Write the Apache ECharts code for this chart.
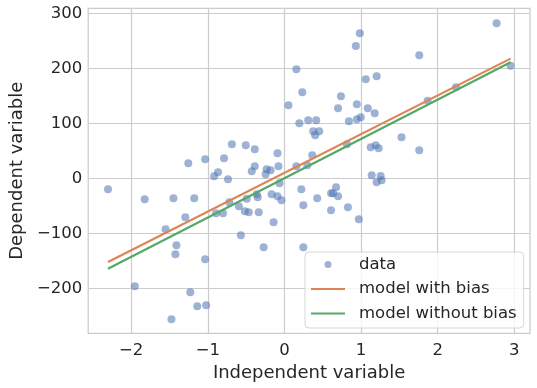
<!DOCTYPE html>
<html><head><meta charset="utf-8">
<script src="https://cdn.jsdelivr.net/npm/echarts@6/dist/echarts.min.js"></script>
<style>html,body{margin:0;padding:0;background:#fff}#c{width:537px;height:388px}</style>
</head><body><div id="c"></div>
<script>
const xTicks = [-2, -1, 0, 1, 2, 3];
const yTicks = [-200, -100, 0, 100, 200, 300];
const dataX = [-2.303,-1.953,-1.824,-1.552,-1.475,-1.449,-1.423,-1.410,-1.294,-1.255,
  -1.229,-1.177,-1.138,-1.035,-1.035,-1.022,-0.918,-0.893,-0.867,-0.802,
  -0.789,-0.737,-0.719,-0.686,-0.595,-0.569,-0.517,-0.505,-0.492,-0.466,
  -0.427,-0.388,-0.388,-0.362,-0.349,-0.336,-0.272,-0.246,-0.233,-0.181,
  -0.168,-0.142,-0.091,-0.091,-0.078,-0.065,-0.039,0.052,0.155,0.155,
  0.194,0.220,0.233,0.246,0.246,0.298,0.310,0.362,0.375,0.401,
  0.414,0.427,0.453,0.608,0.634,0.608,0.673,0.699,0.699,0.737,
  0.815,0.828,0.841,0.931,0.944,0.944,0.970,0.983,0.996,1.061,
  1.087,1.125,1.138,1.177,1.190,1.203,1.203,1.229,1.255,1.268,
  1.527,1.759,1.759,1.868,2.238,2.768,2.950];
const dataY = [-20,-196.4,-38.2,-92.7,-256.4,-36.4,-138.2,-121.8,-70.9,27.3,
  -207.3,-36.4,-232.7,34.5,-147.3,-230.9,3.6,-63.6,10.9,-63.6,
  36.4,-1.8,-43.6,61.8,-50.9,-103.6,-60,60,-37.1,-61.8,
  12.7,52.7,21.8,-29.1,-34.5,-61.8,-125.5,7.3,16.4,14.5,
  -29.1,-80,45.5,-32.7,21.8,-9.1,-40,132.7,198.2,21.8,
  100,-20,156.4,-49.1,-125.5,23.6,105.5,41.8,85.5,78.2,
  105.5,-36.4,85.5,-27.3,-27.3,-58.2,-16.4,-32.7,127.3,149.1,
  61.8,-52.7,103.6,240.5,134.5,107.3,-74.5,263.6,110.9,180,
  127.3,56.4,5.5,118.2,60,185.5,-7.3,54.5,4.2,-3.6,
  74.5,223.6,50.9,141.1,165.5,281.8,204.7];
const lineX = [-2.303, 2.950];
const withBiasY = [-152.2, 217.5];
const withoutBiasY = [-164.5, 211.0];

const fmt = v => String(v).replace('-', '\u2212');
const font = 'DejaVu Sans';
const lineIcon = 'path://M0,0M0,7M0,2.5H34V4.5H0Z';
const chart = echarts.init(document.getElementById('c'));
chart.setOption({
  animation: false,
  backgroundColor: '#ffffff',
  grid: {left: 84.3, right: 7, top: 8.3, bottom: 54.7, show: true, borderColor: '#cccccc', borderWidth: 1.25, containLabel: false},
  xAxis: {
    type: 'value', min: -2.561, max: 3.204,
    name: 'Independent variable', nameLocation: 'middle', nameGap: 28,
    nameTextStyle: {fontFamily: font, fontSize: 18, color: '#262626'},
    axisLine: {show: false}, axisTick: {show: false, customValues: xTicks},
    axisLabel: {customValues: xTicks, formatter: fmt, fontFamily: font, fontSize: 16.5, color: '#262626', margin: 9},
    splitLine: {show: true, lineStyle: {color: '#cccccc', width: 1.2}}
  },
  yAxis: {
    type: 'value', min: -281.8, max: 309,
    name: 'Dependent variable', nameLocation: 'middle', nameGap: 58,
    nameTextStyle: {fontFamily: font, fontSize: 18, color: '#262626'},
    axisLine: {show: false}, axisTick: {show: false, customValues: yTicks},
    axisLabel: {customValues: yTicks, formatter: fmt, fontFamily: font, fontSize: 16.5, color: '#262626', margin: 6},
    splitLine: {show: true, lineStyle: {color: '#cccccc', width: 1.2}}
  },
  legend: {
    orient: 'vertical', left: 305, top: 252,
    padding: [4, 7, 6, 6], itemGap: 7.5, itemWidth: 34, itemHeight: 7,
    backgroundColor: 'rgba(255,255,255,0.8)', borderColor: '#d6d6d6', borderWidth: 1, borderRadius: 4,
    textStyle: {fontFamily: font, fontSize: 16.5, color: '#262626', padding: [0, 0, 0, 9]},
    data: [{name: 'data', icon: 'circle'},
           {name: 'model with bias', icon: lineIcon},
           {name: 'model without bias', icon: lineIcon}]
  },
  series: [
    {name: 'data', type: 'scatter', symbolSize: 8,
     itemStyle: {color: '#4C72B0', opacity: 0.55},
     data: dataX.map((x, i) => [x, dataY[i]])},
    {name: 'model with bias', type: 'line', symbol: 'none', z: 3,
     lineStyle: {color: '#DD8452', width: 2.2}, itemStyle: {color: '#DD8452'},
     data: lineX.map((x, i) => [x, withBiasY[i]])},
    {name: 'model without bias', type: 'line', symbol: 'none', z: 3,
     lineStyle: {color: '#55A868', width: 2.2}, itemStyle: {color: '#55A868'},
     data: lineX.map((x, i) => [x, withoutBiasY[i]])}
  ]
});
</script></body></html>
